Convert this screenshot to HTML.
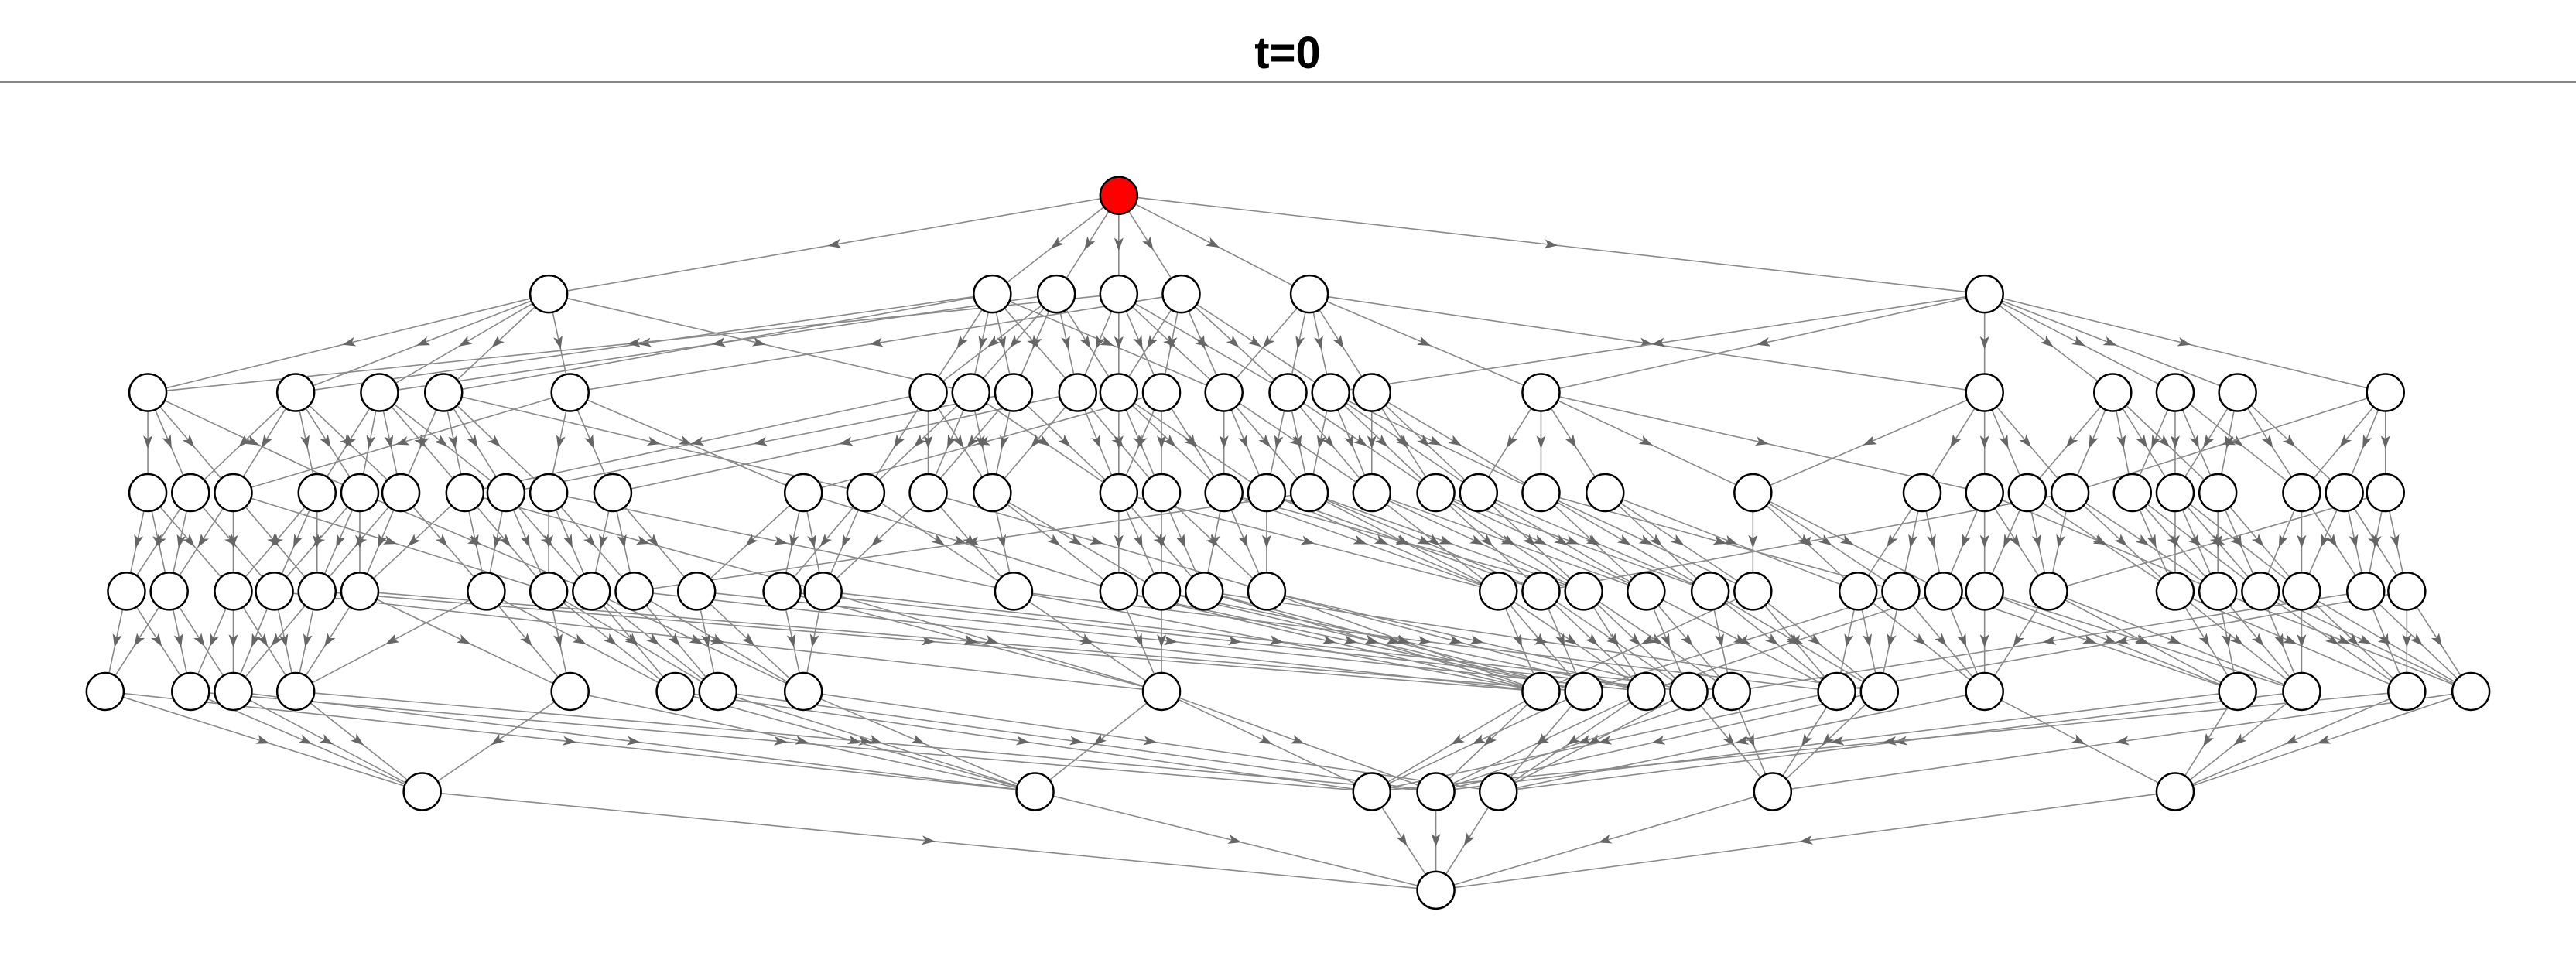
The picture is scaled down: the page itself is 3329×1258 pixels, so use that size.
<!DOCTYPE html>
<html><head><meta charset="utf-8"><style>
html,body{margin:0;padding:0;background:#fff;}
svg{display:block;}
</style></head><body>
<svg id="chart" width="3329" height="1258" viewBox="0 0 3329 1258" xmlns="http://www.w3.org/2000/svg">
<rect x="0" y="0" width="3329" height="1258" fill="#fff"/>
<text x="1664" y="88" text-anchor="middle" font-family="Liberation Sans, sans-serif" font-weight="bold" font-size="58" fill="#000">t=0</text>
<line x1="0" y1="106" x2="3329" y2="106" stroke="#888" stroke-width="2"/>
<g id="edges"></g>
<g id="nodes"></g>
</svg>
<script>
// layer node x-positions (display units, scaled below)
const layer0 = [681];
const layer1 = [334,604,643,681,719,797,1208];
const layer2 = [90,180,231,270,347,565,591,617,656,681,707,745,784,810,835,938,1208,1286,1324,1362,1452];
const layer3 = [90,116,142,193,219,244,283,308,334,373,489,527,565,604,681,707,745,771,797,835,874,900,938,977,1067,1170,1208,1234,1260,1298,1324,1350,1401,1427,1452];
const layer4 = [77,103,142,167,193,219,296,334,360,386,424,476,501,617,681,707,733,771,912,938,964,1002,1041,1067,1131,1157,1183,1208,1247,1324,1350,1376,1401,1440,1465];
const layer5 = [64,116,142,180,347,411,437,489,707,938,964,1002,1028,1054,1118,1144,1208,1362,1401,1465,1504];
const layer6 = [257,630,835,874,912,1079,1324];
const layer7 = [874];
const layerY = [120,180,240,301,361,422,483,543];
const activeNodes = ["0-0"];

const edges0 = [[0,1,2,3,4,5,6]];
const edges1 = [[0,1,2,3,4,6],[5,6,7,8,3,1,11],[5,6,7,8,9,2],[8,9,10,11,12,0],[9,10,11,12,13,4],[11,12,13,14,15,16],[15,16,17,18,19,20,13]];
const edges2 = [[0,1,2,4],[1,2,3,4,5],[3,4,5,6,7],[5,6,7,8,11],[8,9,10,2],[11,12,13,6],[11,12,13,14],[12,13,14,7],[13,14,15,9],[14,15,16,17],[14,15,16,10],[16,17,18,19],[17,18,19,20],[18,19,20,21,22],[19,20,21,22],[21,22,23,24,26],[25,26,27,28,24],[27,28,29,30,31],[29,30,31,32],[30,31,32,33],[32,33,34,28]];
const edges3 = [[0,1,2],[0,1,3],[1,2,4,7],[2,3,4],[3,4,5,8],[4,5,6],[5,6,7,12],[6,7,8],[7,8,9,13],[8,9,10],[10,11,12,14],[11,12,13],[12,13,17],[13,14,15],[14,15,16,18],[15,16,17],[16,17,18,20],[17,18,19],[18,19,20,9],[18,20,21],[19,20,21,22],[20,21,22],[21,22,23,25],[22,23,24],[23,24,25,26],[24,25,26],[26,27,28,30],[27,28,29],[28,29,30,19],[29,30,31],[29,30,31,32],[30,31,32],[31,32,33],[32,33,34],[33,34,28]];
const edges4 = [[0,1],[0,1,2],[1,2,3],[2,3,8],[3,2,9],[3,4,10],[4,5,3],[4,5,6],[5,6,7],[6,7,9],[6,7,11],[7,8,12],[7,8,13],[8,9,14],[8,9,10],[8,10,11],[9,10,15],[9,11,12],[9,10,11],[10,11,12],[11,12,13],[12,13,14],[13,14,15],[14,15,9],[14,15,16],[15,16,10],[16,17,11],[16,17,18],[16,17,18],[17,18,19],[17,18,20],[18,19,20],[18,19,20],[19,20,13],[19,20,14]];
const edges5 = [[0,1],[0,2],[0,1],[0,3],[0,1],[1,2],[1,3],[1,4],[1,2,3],[2,3],[2,4],[3,4],[4,5],[3,5],[5,2],[5,3],[6,4],[6,3],[6,4],[6,2],[6,5]];
const edges6 = [[0],[0],[0],[0],[0],[0],[0]];

const layers = [layer0,layer1,layer2,layer3,layer4,layer5,layer6,layer7];
const edgeSets = [edges0,edges1,edges2,edges3,edges4,edges5,edges6];
const S = 3329/1568;
const sx = v => v*S;
const sy = v => v*S - 2;
const R = 24;
const NS = "http://www.w3.org/2000/svg";
const eg = document.getElementById('edges');
const ng = document.getElementById('nodes');

edgeSets.forEach((set, L) => {
  set.forEach((targets, i) => {
    targets.forEach(j => {
      const x1 = sx(layers[L][i]), y1 = sy(layerY[L]);
      const x2 = sx(layers[L+1][j]), y2 = sy(layerY[L+1]);
      const ln = document.createElementNS(NS,'line');
      ln.setAttribute('x1',x1); ln.setAttribute('y1',y1);
      ln.setAttribute('x2',x2); ln.setAttribute('y2',y2);
      ln.setAttribute('stroke','#8a8a8a'); ln.setAttribute('stroke-width','1.6');
      
      
      eg.appendChild(ln);
      const mx = (x1+x2)/2, my = (y1+y2)/2;
      const ang = Math.atan2(y2-y1, x2-x1)*180/Math.PI;
      const ar = document.createElementNS(NS,'path');
      ar.setAttribute('d','M8,0 L-9,-6 L-5,0 L-9,6 Z');
      ar.setAttribute('fill','#666');
      ar.setAttribute('transform','translate('+mx+','+my+') rotate('+ang+')');
      
      
      eg.appendChild(ar);
    });
  });
});

layers.forEach((xs, L) => {
  xs.forEach((x, i) => {
    const c = document.createElementNS(NS,'circle');
    c.setAttribute('cx', sx(x)); c.setAttribute('cy', sy(layerY[L]));
    c.setAttribute('r', R);
    c.setAttribute('fill', activeNodes.includes(L+'-'+i) ? '#ff0000' : '#ffffff');
    c.setAttribute('stroke','#000'); c.setAttribute('stroke-width','2.5');
    
    
    ng.appendChild(c);
  });
});
</script>
</body></html>
